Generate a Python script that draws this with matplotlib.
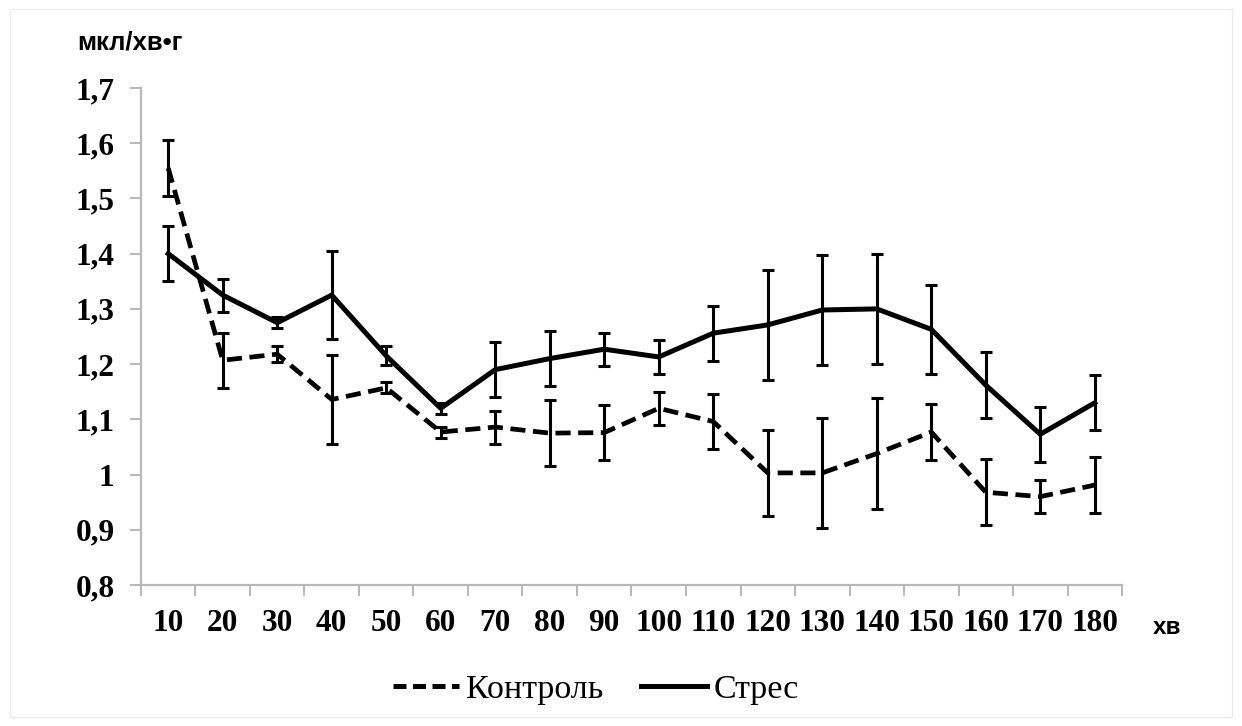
# Control vs stress curves with error bars, Ukrainian labels
import numpy as np
import matplotlib.pyplot as plt
from matplotlib.lines import Line2D
from matplotlib.patches import Rectangle

# Data
minutes = ['10', '20', '30', '40', '50', '60', '70', '80', '90', '100',
           '110', '120', '130', '140', '150', '160', '170', '180']
control = [1.555, 1.207, 1.218, 1.136, 1.157, 1.077, 1.086, 1.075, 1.076, 1.12,
           1.096, 1.003, 1.003, 1.038, 1.077, 0.968, 0.960, 0.981]
control_err = [0.05, 0.05, 0.015, 0.08, 0.01, 0.01, 0.03, 0.06, 0.05, 0.03,
               0.05, 0.078, 0.10, 0.10, 0.05, 0.06, 0.03, 0.05]
stress = [1.40, 1.325, 1.275, 1.325, 1.215, 1.12, 1.19, 1.21, 1.227, 1.213,
          1.256, 1.271, 1.298, 1.30, 1.263, 1.162, 1.073, 1.13]
stress_err = [0.05, 0.03, 0.01, 0.08, 0.017, 0.01, 0.05, 0.05, 0.03, 0.03,
              0.05, 0.10, 0.10, 0.10, 0.08, 0.06, 0.05, 0.05]
yticks = [0.8, 0.9, 1.0, 1.1, 1.2, 1.3, 1.4, 1.5, 1.6, 1.7]
ylabels = ['0,8', '0,9', '1', '1,1', '1,2', '1,3', '1,4', '1,5', '1,6', '1,7']

x = np.arange(len(minutes))

fig = plt.figure(figsize=[12.42, 7.26], dpi=100)
ax = fig.add_axes([0.1135, 0.1942, 0.7899, 0.6846])

gray = '#b8b8b8'
serif = 'Liberation Serif'
dash = (0, (3.2, 1.6))

# Series
ax.errorbar(x, control, yerr=control_err, color='black', lw=3.4, ls=dash,
            elinewidth=2.2, capsize=4.6, capthick=2.2, zorder=3)
ax.errorbar(x, stress, yerr=stress_err, color='black', lw=3.6, ls='-',
            elinewidth=2.2, capsize=4.6, capthick=2.2, zorder=4)

# Axes look
ax.set_xlim(-0.5, len(minutes) - 0.5)
ax.set_ylim(0.8, 1.7)
for s in ['top', 'right']:
    ax.spines[s].set_visible(False)
for s in ['left', 'bottom']:
    ax.spines[s].set_color(gray)
    ax.spines[s].set_linewidth(1.6)

ax.set_yticks(yticks)
ax.set_yticklabels(ylabels, fontfamily=serif, fontweight='bold', fontsize=22.5)
ax.tick_params(axis='y', direction='out', length=8, width=1.4, color=gray, pad=11)

# x ticks sit between categories, labels at category centers
ax.set_xticks(np.arange(len(minutes) + 1) - 0.5)
ax.set_xticklabels([])
ax.set_xticks(x, minor=True)
ax.set_xticklabels(minutes, minor=True, fontfamily=serif, fontweight='bold', fontsize=22.5)
ax.tick_params(axis='x', which='major', direction='out', length=8, width=1.4, color=gray)
ax.tick_params(axis='x', which='minor', length=0, pad=17)

# Unit labels
fig.text(77 / 1242, 1 - 43 / 726, 'мкл/хв•г', fontfamily='Liberation Sans',
         fontweight='bold', fontsize=18.5, ha='left', va='center')
fig.text(1153 / 1242, 1 - 627 / 726, 'хв', fontfamily='Liberation Sans',
         fontweight='bold', fontsize=17.5, ha='left', va='center')

# Legend below the plot, lines only
handles = [Line2D([], [], color='black', lw=3.6, ls=(0, (2.6, 1.3))),
           Line2D([], [], color='black', lw=3.6, ls='-')]
fig.legend(handles, ['Контроль', 'Стрес'], loc='center', bbox_to_anchor=(0.48, 0.05),
           ncol=2, frameon=False, prop={'family': serif, 'size': 24.5},
           handlelength=1.95, handletextpad=0.2, columnspacing=1.1)

# faint frame around the picture
fig.patches.append(Rectangle((0.008, 0.012), 0.984, 0.975, transform=fig.transFigure,
                             fill=False, ec='#ececec', lw=1))

plt.savefig('out.png', dpi=100)
